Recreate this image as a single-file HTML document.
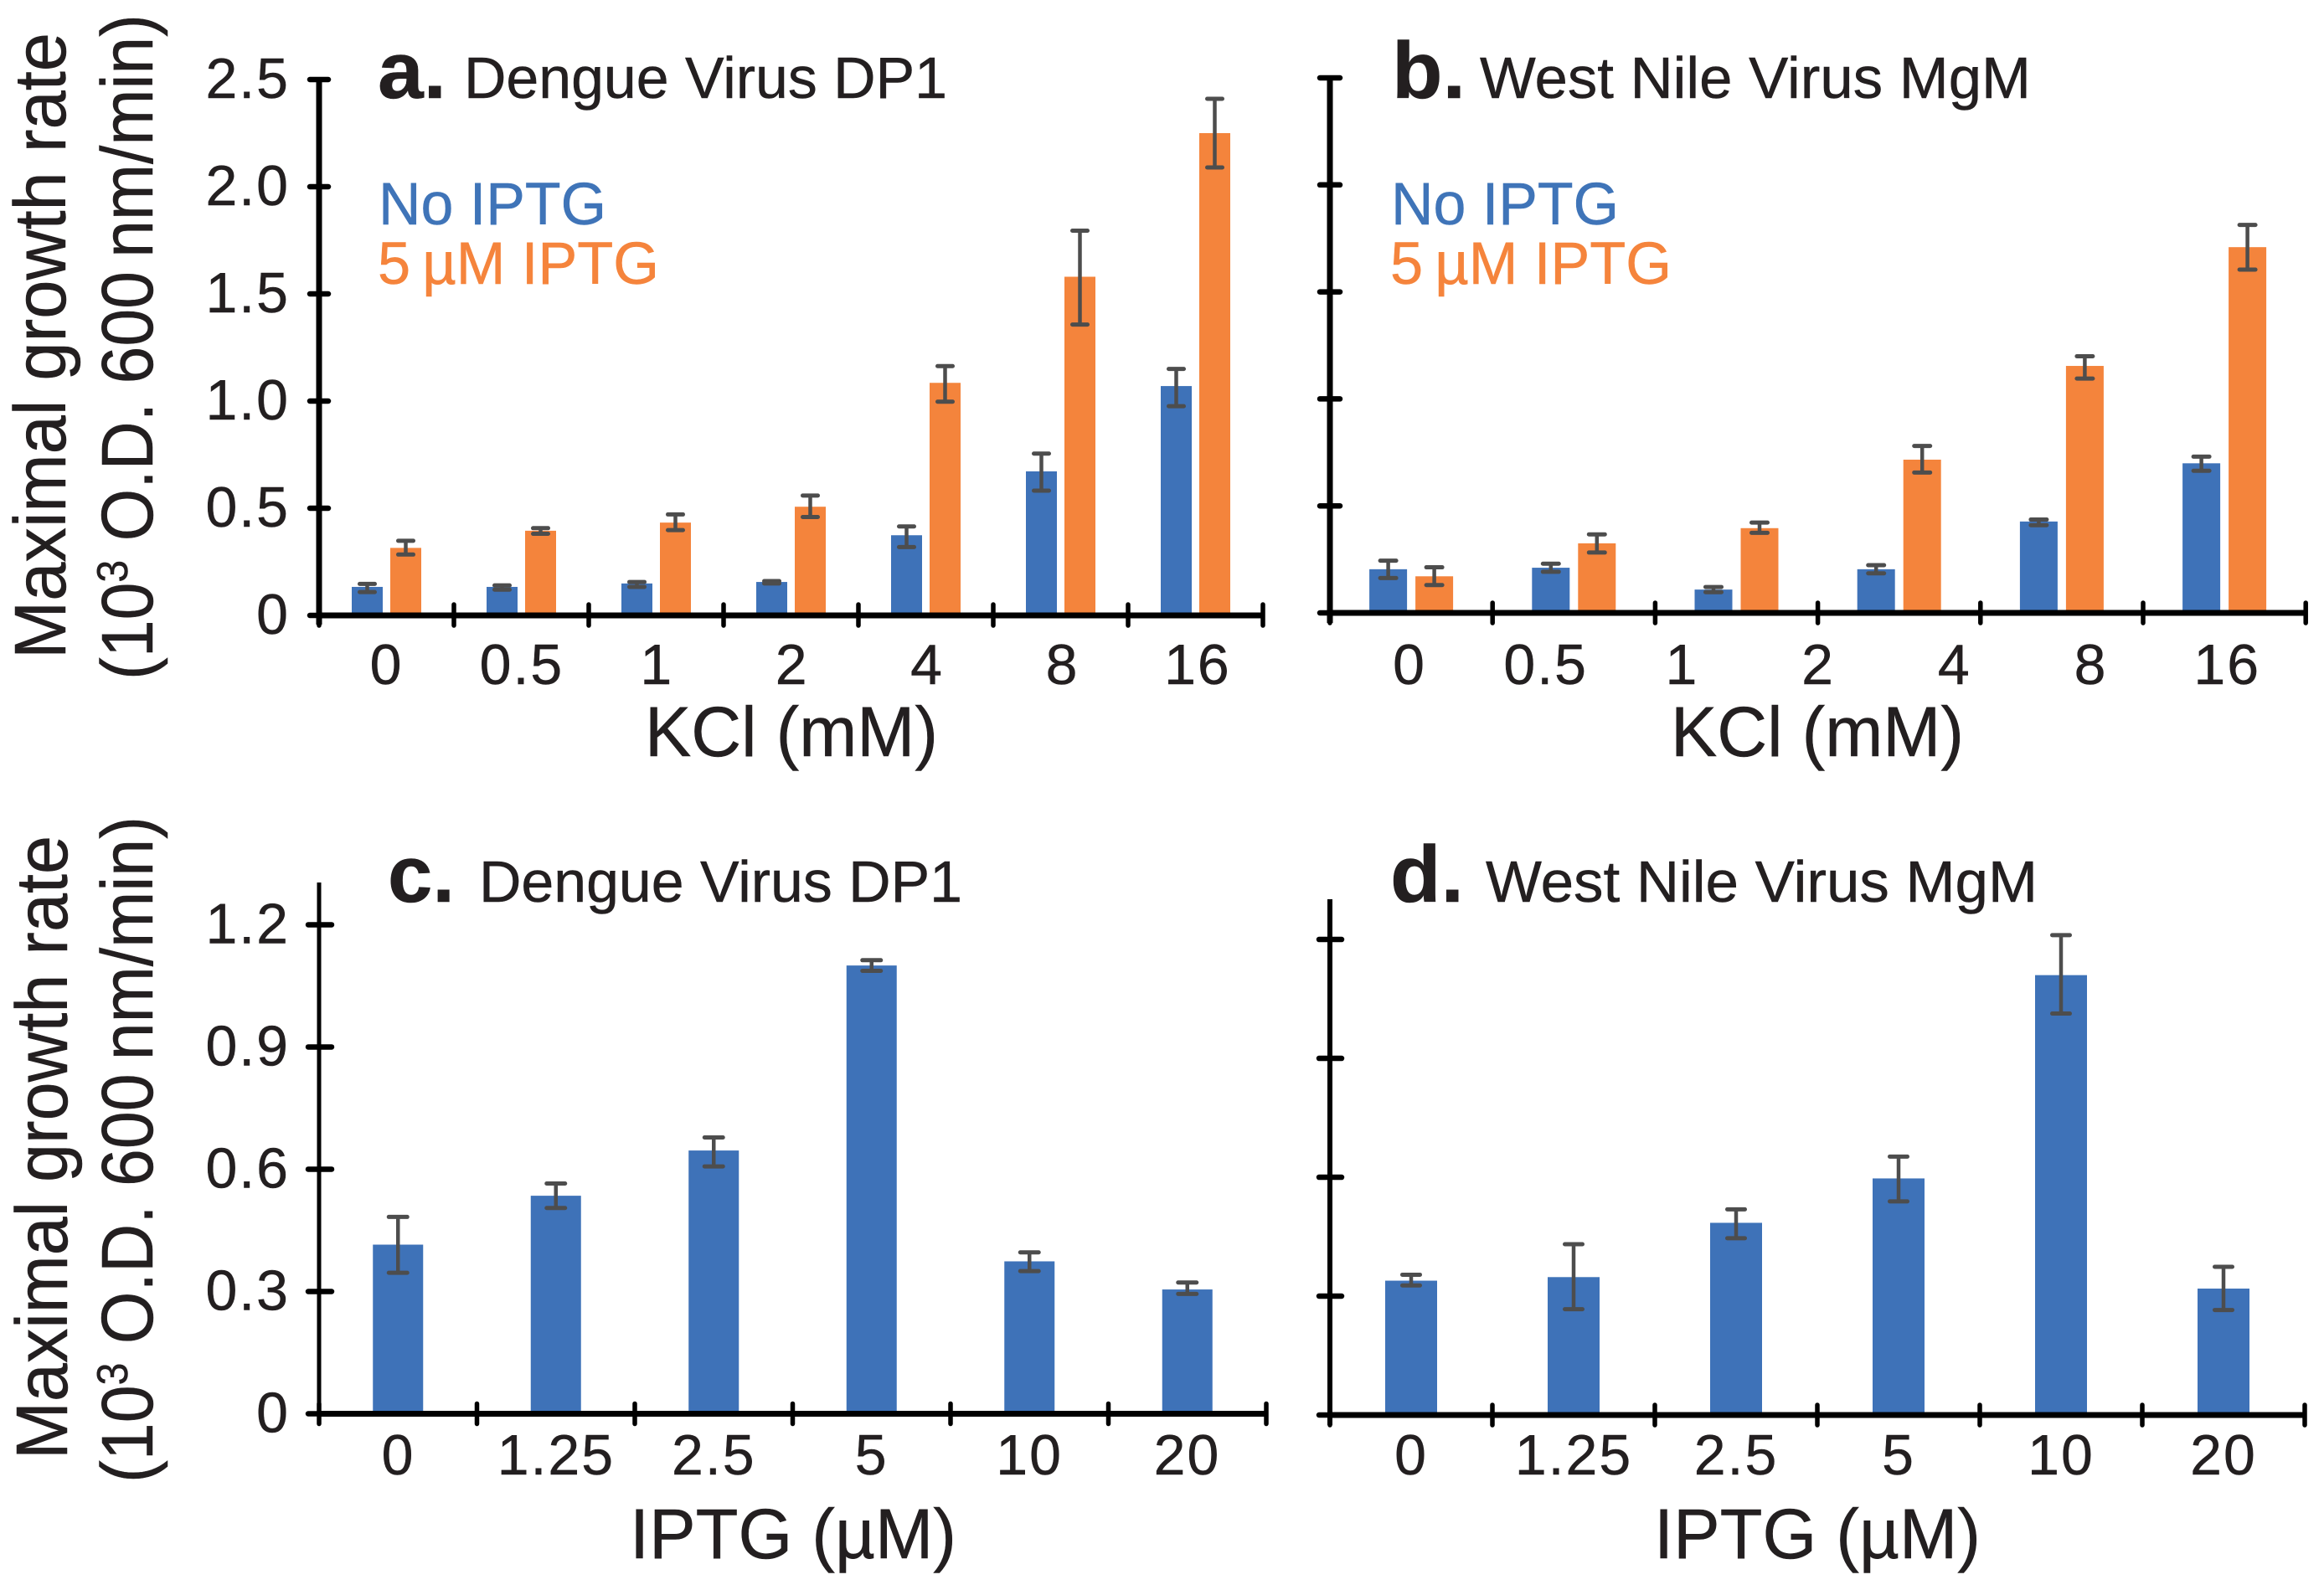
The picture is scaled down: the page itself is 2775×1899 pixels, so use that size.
<!DOCTYPE html>
<html lang="en">
<head>
<meta charset="utf-8">
<title>Maximal growth rate charts</title>
<style>
html,body{margin:0;padding:0;background:#fff;width:2775px;height:1899px;overflow:hidden}
svg{display:block}
text{font-family:"Liberation Sans",sans-serif;fill:#231f20;stroke:#231f20;stroke-width:.5px}
</style>
</head>
<body>
<svg id="figure" xmlns="http://www.w3.org/2000/svg" width="2775" height="1899" viewBox="0 0 2775 1899">
  <rect width="2775" height="1899" fill="#fff"/>

  <text transform="translate(78,787) rotate(-90)" font-size="87" textLength="748" lengthAdjust="spacingAndGlyphs">Maximal growth rate</text>
  <text transform="translate(182,812) rotate(-90)" font-size="87" textLength="795" lengthAdjust="spacingAndGlyphs">(10<tspan font-size="52" dy="-30">3</tspan><tspan dy="30"> O.D. 600&#8201;nm/min)</tspan></text>
  <text transform="translate(80,1743) rotate(-90)" font-size="87" textLength="745" lengthAdjust="spacingAndGlyphs">Maximal growth rate</text>
  <text transform="translate(182,1771) rotate(-90)" font-size="87" textLength="796" lengthAdjust="spacingAndGlyphs">(10<tspan font-size="52" dy="-30">3</tspan><tspan dy="30"> O.D. 600&#8201;nm/min)</tspan></text>

  <text x="451" y="117" font-size="96" font-weight="700" textLength="82" lengthAdjust="spacingAndGlyphs">a.</text>
  <text x="554" y="117" font-size="70" textLength="577" lengthAdjust="spacingAndGlyphs">Dengue Virus DP1</text>
  <text x="1662" y="117" font-size="96" font-weight="700" textLength="88" lengthAdjust="spacingAndGlyphs">b.</text>
  <text x="1767" y="117" font-size="70" textLength="658" lengthAdjust="spacingAndGlyphs">West Nile Virus MgM</text>
  <text x="463" y="1077" font-size="96" font-weight="700" textLength="80" lengthAdjust="spacingAndGlyphs">c.</text>
  <text x="572" y="1077" font-size="70" textLength="577" lengthAdjust="spacingAndGlyphs">Dengue Virus DP1</text>
  <text x="1660" y="1077" font-size="96" font-weight="700" textLength="88" lengthAdjust="spacingAndGlyphs">d.</text>
  <text x="1774" y="1077" font-size="70" textLength="659" lengthAdjust="spacingAndGlyphs">West Nile Virus MgM</text>

  <text x="452" y="268" font-size="71" style="fill:#3f74b8;stroke:#3f74b8" textLength="272" lengthAdjust="spacingAndGlyphs">No IPTG</text>
  <text x="451" y="339" font-size="71" style="fill:#f5843c;stroke:#f5843c" textLength="336" lengthAdjust="spacingAndGlyphs">5&#8201;µM IPTG</text>
  <text x="1661" y="268" font-size="71" style="fill:#3f74b8;stroke:#3f74b8" textLength="272" lengthAdjust="spacingAndGlyphs">No IPTG</text>
  <text x="1660" y="339" font-size="71" style="fill:#f5843c;stroke:#f5843c" textLength="336" lengthAdjust="spacingAndGlyphs">5&#8201;µM IPTG</text>

  <text x="945" y="903" font-size="84" text-anchor="middle" textLength="350" lengthAdjust="spacingAndGlyphs">KCl (mM)</text>
  <text x="2170" y="903" font-size="84" text-anchor="middle" textLength="350" lengthAdjust="spacingAndGlyphs">KCl (mM)</text>
  <text x="947" y="1861" font-size="84" text-anchor="middle" textLength="390" lengthAdjust="spacingAndGlyphs">IPTG (µM)</text>
  <text x="2170" y="1861" font-size="84" text-anchor="middle" textLength="390" lengthAdjust="spacingAndGlyphs">IPTG (µM)</text>

  <g id="charts"></g>
</svg>
<script>
// Panel a data
const aCategories = ['0','0.5','1','2','4','8','16'];
const aNoIptg    = [0.133,0.133,0.149,0.156,0.374,0.672,1.070];
const aNoIptgHi  = [0.147,0.140,0.156,0.160,0.415,0.755,1.150];
const aNoIptgLo  = [0.109,0.120,0.133,0.149,0.319,0.582,0.976];
const aIptg      = [0.315,0.395,0.433,0.507,1.085,1.580,2.250];
const aIptgHi    = [0.348,0.407,0.471,0.559,1.163,1.795,2.410];
const aIptgLo    = [0.284,0.381,0.398,0.459,0.997,1.357,2.090];
const aYTicks    = [0,0.5,1,1.5,2,2.5];
const aYLabels   = ['0','0.5','1.0','1.5','2.0','2.5'];

// Panel b data
const bCategories = ['0','0.5','1','2','4','8','16'];
const bNoIptg    = [0.204,0.211,0.109,0.204,0.427,0.699];
const bNoIptgHi  = [0.244,0.230,0.121,0.223,0.436,0.730];
const bNoIptgLo  = [0.163,0.192,0.097,0.185,0.410,0.664];
const bIptg      = [0.171,0.325,0.396,0.716,1.154,1.709];
const bIptgHi    = [0.213,0.367,0.422,0.780,1.199,1.813];
const bIptgLo    = [0.130,0.282,0.374,0.656,1.095,1.604];
const bYTicks    = [0,0.5,1,1.5,2,2.5];

// Panel c data
const cCategories = ['0','1.25','2.5','5','10','20'];
const cValues    = [0.415,0.535,0.646,1.100,0.374,0.305];
const cHi        = [0.483,0.565,0.678,1.113,0.396,0.322];
const cLo        = [0.346,0.505,0.607,1.087,0.350,0.294];
const cYTicks    = [0,0.3,0.6,0.9,1.2];
const cYLabels   = ['0','0.3','0.6','0.9','1.2'];

// Panel d data
const dCategories = ['0','1.25','2.5','5','10','20'];
const dValues    = [0.339,0.348,0.485,0.597,1.110,0.319];
const dHi        = [0.354,0.431,0.519,0.652,1.211,0.374];
const dLo        = [0.327,0.267,0.446,0.539,1.013,0.265];
const dYTicks    = [0,0.3,0.6,0.9,1.2];

const NS = 'http://www.w3.org/2000/svg';
const root = document.getElementById('charts');

function make(tag, attrs, parent) {
  const el = document.createElementNS(NS, tag);
  for (const k in attrs) el.setAttribute(k, attrs[k]);
  parent.appendChild(el);
  return el;
}

function drawErrorBar(g, cx, yHi, yLo, capW) {
  const stem = make('line', {x1: cx, x2: cx, y1: yHi, y2: yLo, stroke: '#4d4d4d', 'stroke-width': 4.5}, g);
  
  
  const top = make('line', {x1: cx - capW / 2, x2: cx + capW / 2, y1: yHi, y2: yHi, stroke: '#4d4d4d', 'stroke-width': 5, 'stroke-linecap': 'round'}, g);
  
  
  const bottom = make('line', {x1: cx - capW / 2, x2: cx + capW / 2, y1: yLo, y2: yLo, stroke: '#4d4d4d', 'stroke-width': 5, 'stroke-linecap': 'round'}, g);
  
  
}

function drawPanel(p) {
  const g = make('g', {}, root);
  
  
  const yScale = v => p.base - v * p.unit;
  const groupCenter = i => p.axisX + (i + 0.5) * p.step;
  const nGroups = p.series[0].values.length;
  const endX = p.axisX + nGroups * p.step;

  p.series.forEach(s => {
    s.values.forEach((v, i) => {
      const cx = groupCenter(i) + s.offset;
      const bar = make('rect', {x: cx - p.barW / 2, y: yScale(v), width: p.barW, height: p.base - yScale(v), fill: s.color}, g);
      
      
    });
  });
  p.series.forEach(s => {
    s.values.forEach((v, i) => {
      drawErrorBar(g, groupCenter(i) + s.offset, yScale(s.hi[i]), yScale(s.lo[i]), p.capW);
    });
  });

  const yAxis = make('line', {x1: p.axisX, x2: p.axisX, y1: p.axisTop, y2: p.axisBottom, stroke: '#000', 'stroke-width': p.yAxisW}, g);
  
  
  const xAxis = make('line', {x1: p.axisX, x2: endX, y1: p.base, y2: p.base, stroke: '#000', 'stroke-width': 7}, g);
  
  

  p.yTicks.forEach((v, i) => {
    const y = yScale(v);
    const tick = make('line', {x1: p.axisX - p.yTickL, x2: p.axisX + p.yTickR, y1: y, y2: y, stroke: '#000', 'stroke-width': 6.5, 'stroke-linecap': 'round'}, g);
    
    
    if (p.yLabels) {
      const label = make('text', {x: p.axisX - 35, y: y + 22, 'font-size': 68, 'text-anchor': 'end', 'letter-spacing': 2}, g);
      
      
      label.textContent = p.yLabels[i];
    }
  });

  for (let i = 0; i <= nGroups; i++) {
    const x = p.axisX + i * p.step;
    const tick = make('line', {x1: x, x2: x, y1: p.base - p.xTickUp, y2: p.base + p.xTickDown, stroke: '#000', 'stroke-width': 5.5, 'stroke-linecap': 'round'}, g);
    
    
  }

  p.categories.forEach((c, i) => {
    const label = make('text', {x: p.labelStart + i * p.labelStep, y: p.labelY, 'font-size': 68, 'text-anchor': 'middle', 'letter-spacing': 2}, g);
    
    
    label.textContent = c;
  });
}

const BLUE = '#3e72b8';
const ORANGE = '#f4843c';

drawPanel({id:'a', axisX:381, base:735, unit:256, step:161, barW:37, capW:18, axisTop:95, axisBottom:746, yAxisW:7,
  yTickL:11, yTickR:11, xTickUp:13, xTickDown:12, labelStart:461.5, labelStep:161.4, labelY:817,
  categories:aCategories, yTicks:aYTicks, yLabels:aYLabels,
  series:[{name:'no-iptg', color:BLUE, offset:-23, values:aNoIptg, hi:aNoIptgHi, lo:aNoIptgLo},
          {name:'5um-iptg', color:ORANGE, offset:23, values:aIptg, hi:aIptgHi, lo:aIptgLo}]});

drawPanel({id:'b', axisX:1588, base:732, unit:255.6, step:194.2, barW:45, capW:19, axisTop:93, axisBottom:744, yAxisW:7,
  yTickL:12, yTickR:12, xTickUp:12, xTickDown:12, labelStart:1683, labelStep:162.7, labelY:817,
  categories:bCategories, yTicks:bYTicks, yLabels:null,
  series:[{name:'no-iptg', color:BLUE, offset:-27.5, values:bNoIptg, hi:bNoIptgHi, lo:bNoIptgLo},
          {name:'5um-iptg', color:ORANGE, offset:27.5, values:bIptg, hi:bIptgHi, lo:bIptgLo}]});

drawPanel({id:'c', axisX:381, base:1688.5, unit:486.7, step:188.5, barW:60, capW:22, axisTop:1054, axisBottom:1700, yAxisW:5,
  yTickL:13, yTickR:15, xTickUp:12, xTickDown:12, labelStart:475.5, labelStep:188.4, labelY:1761,
  categories:cCategories, yTicks:cYTicks, yLabels:cYLabels,
  series:[{name:'dengue', color:BLUE, offset:0, values:cValues, hi:cHi, lo:cLo}]});

drawPanel({id:'d', axisX:1588, base:1690, unit:473.3, step:194, barW:62, capW:21, axisTop:1074, axisBottom:1702, yAxisW:6,
  yTickL:13, yTickR:14, xTickUp:12, xTickDown:12, labelStart:1685, labelStep:194, labelY:1761,
  categories:dCategories, yTicks:dYTicks, yLabels:null,
  series:[{name:'west-nile', color:BLUE, offset:0, values:dValues, hi:dHi, lo:dLo}]});
</script>
</body>
</html>
